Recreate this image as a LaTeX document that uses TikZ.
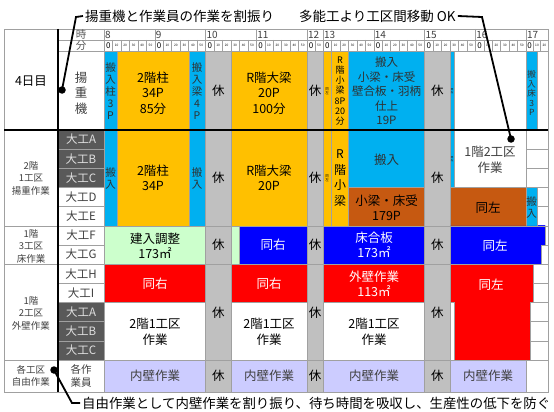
\documentclass[tikz,border=0pt]{standalone}
\usepackage{fontspec}
\setmainfont{Noto Sans CJK JP}
\definecolor{cy}{HTML}{00B0F0}
\definecolor{og}{HTML}{FFC000}
\definecolor{gy}{HTML}{C0C0C0}
\definecolor{br}{HTML}{C65911}
\definecolor{bl}{HTML}{0000FF}
\definecolor{rd}{HTML}{FF0000}
\definecolor{gr}{HTML}{CCFFCC}
\definecolor{lv}{HTML}{CCCCFF}
\definecolor{dk}{HTML}{595959}
\definecolor{gl}{HTML}{A0A0A0}
\definecolor{tx4}{HTML}{404040}
\definecolor{cytx}{HTML}{303030}
\newcommand\bx[5]{\path[blk,fill=#1] (#2,#3) rectangle (#4,#5);}
\begin{document}
\begin{tikzpicture}[x=1pt,y=-1pt,
  every node/.style={inner sep=0pt, align=center},
  blk/.style={draw=gl, line width=0.5pt},
  tb/.style={font=\fontsize{12.5}{15.5}\selectfont},
  vs/.style={font=\fontsize{10.5}{12}\selectfont, text=cytx},
  lab/.style={font=\fontsize{9.5}{12.5}\selectfont, text=tx4},
  dg/.style={font=\fontsize{11.5}{13}\selectfont},
  tinyt/.style={font=\fontsize{3.5}{4}\selectfont},
  leader/.style={line width=1.8pt, black},
  blackdot/.style={circle, fill=black, minimum size=7.5pt},
  captxt/.style={anchor=west, inner sep=2pt, font=\fontsize{13.5}{13.5}\selectfont}]
\useasboundingbox (0,0) rectangle (554,412);
\fill[white] (0,0) rectangle (554,412);
% table frame
\path[fill=white, draw=gl, line width=0.5pt] (4,29) rectangle (548,392);
\draw[gl] (58,40) -- (548,40);
\draw[gl, line width=0.8pt] (58,51) -- (548,51);
\foreach \y in {149.17,168.33,187.5,206.67,245,283.33,302.5,321.67,340.83}
  \draw[gl] (58,\y) -- (548,\y);
\foreach \y in {225.83,264.17,360}
  \draw[gl] (4,\y) -- (548,\y);
\draw[gl] (104,29) -- (104,392);
% header
\node[font=\fontsize{10.5}{10.5}\selectfont, text=dk] (hji) at (81,34.5) {時};
\node[font=\fontsize{10.5}{10.5}\selectfont, text=dk] (hfun) at (81,45.8) {分};
\foreach \h/\x in {8/104,9/154.75,10/205.5,11/256.25,13/323,14/373.75,15/424.5,16/475.25}{
  \draw[gl] (\x,29) -- (\x,51);
  \node[anchor=west, font=\fontsize{10}{10}\selectfont, text=tx4] (hr\h) at (\x+0.8,34.8) {\h};
  \node[font=\fontsize{8}{8}\selectfont] (mz\h) at (\x+4.23,45.8) {0};
  \foreach \i/\m in {1/10,2/20,3/30,4/40,5/50}{
    \draw[gl] (\x+\i*8.458,40) -- (\x+\i*8.458,51);
    \node[font=\fontsize{3.2}{3.2}\selectfont] (m\h-\m) at (\x+\i*8.458+4.23,45.8) {\m};
  }
}
\draw[gl] (307,29) -- (307,51);
\draw[gl] (315,40) -- (315,51);
\node[anchor=west, font=\fontsize{10}{10}\selectfont, text=tx4] (hr12) at (307.8,34.8) {12};
\node[font=\fontsize{8}{8}\selectfont] (mz12) at (311,45.8) {0};
\node[font=\fontsize{3.2}{3.2}\selectfont] (m12-50) at (319,45.8) {50};
\draw[gl] (526,29) -- (526,51);
\draw[gl] (533.33,40) -- (533.33,51);
\draw[gl] (540.67,40) -- (540.67,51);
\node[anchor=west, font=\fontsize{10}{10}\selectfont, text=tx4] (hr17) at (526.8,34.8) {17};
\node[font=\fontsize{8}{8}\selectfont] (mz17) at (529.7,45.8) {0};
\node[font=\fontsize{3.2}{3.2}\selectfont] (m17-10) at (537,45.8) {10};
\node[font=\fontsize{3.2}{3.2}\selectfont] (m17-20) at (544.3,45.8) {20};
% gray break columns
\foreach \a/\b in {205.5/231,307/323,424.5/450}
  \foreach \u/\v in {51/130,130/225.83,225.83/264.17,264.17/360,360/392}
    \bx{gy}{\a}{\u}{\b}{\v}
% row 1
\bx{cy}{104}{51}{117}{130}
\bx{og}{117}{51}{189}{130}
\bx{cy}{189}{51}{205.5}{130}
\bx{og}{231}{51}{307}{130}
\bx{og}{323}{51}{331.5}{130}
\bx{og}{331.5}{51}{348.4}{130}
\bx{cy}{348.4}{51}{424.5}{130}
\bx{cy}{450}{51}{454.2}{130}
\bx{cy}{526}{51}{537.5}{130}
% A-E
\bx{cy}{104}{130}{117}{225.83}
\bx{og}{117}{130}{189}{225.83}
\bx{cy}{189}{130}{205.5}{225.83}
\bx{og}{231}{130}{307}{225.83}
\bx{og}{323}{130}{331.5}{225.83}
\bx{og}{331.5}{130}{348.4}{225.83}
\bx{cy}{348.4}{130}{424.5}{187.5}
\bx{br}{348.4}{187.5}{424.5}{225.83}
\bx{cy}{450}{130}{454.2}{187.5}
\bx{white}{454.2}{130}{526}{187.5}
\bx{br}{450}{187.5}{526}{225.83}
\bx{cy}{526}{187.5}{537.5}{225.83}
% F-G
\bx{gr}{104}{225.83}{205.5}{264.17}
\bx{gr}{231}{225.83}{239.5}{264.17}
\bx{bl}{239.5}{225.83}{307}{264.17}
\bx{bl}{323}{225.83}{424.5}{264.17}
\path[blk,fill=bl] (450,225.83) -- (545,225.83) -- (545,245) -- (541,245) -- (541,264.17) -- (450,264.17) -- cycle;
% H-I
\bx{rd}{104}{264.17}{205.5}{302.5}
\bx{rd}{231}{264.17}{307}{302.5}
\bx{rd}{323}{264.17}{424.5}{302.5}
\path[blk,fill=rd] (450,264.17) -- (533,264.17) -- (533,302.5) -- (530,302.5) -- (530,360) -- (454.2,360) -- (454.2,302.5) -- (450,302.5) -- cycle;
% A-C
\bx{white}{104}{302.5}{205.5}{360}
\bx{white}{231}{302.5}{307}{360}
\bx{white}{323}{302.5}{424.5}{360}
\bx{white}{450}{302.5}{454.2}{360}
% last row
\bx{lv}{104}{360}{205.5}{392}
\bx{lv}{231}{360}{307}{392}
\bx{lv}{323}{360}{424.5}{392}
\bx{lv}{450}{360}{526}{392}
% dark label cells
\foreach \u/\v in {130/149.17,149.17/168.33,168.33/187.5,302.5/321.67,321.67/340.83,340.83/360}
  \path[draw=gl, fill=dk] (58,\u) rectangle (104,\v);
% strong lines
\draw[black, line width=1.2pt] (4,130) -- (548,130);
\draw[black, line width=1.2pt] (58,29) -- (58,392);
% left labels
\node[tb] (d4) at (31,81) {4日目};
\node[tb, text=tx4] (yj) at (81,93) {揚\\重\\機};
\node[lab] (l1) at (31,178) {2階\\1工区\\揚重作業};
\node[lab] (l2) at (31,246) {1階\\3工区\\床作業};
\node[lab] (l3) at (31,313) {1階\\2工区\\外壁作業};
\node[lab] (l4) at (31,376) {各工区\\自由作業};
\foreach \n/\y in {A/139.6,B/158.75,C/177.9}
  \node[dg, text=white!88!black] (da\n) at (81,\y) {大工\n};
\foreach \n/\y in {D/197.1,E/216.25,F/235.4,G/254.6,H/273.75,I/292.9}
  \node[dg, text=tx4] (db\n) at (81,\y) {大工\n};
\foreach \n/\y in {A/312.1,B/331.25,C/350.4}
  \node[dg, text=white!88!black] (dc\n) at (81,\y) {大工\n};
\node[lab, font=\fontsize{10.5}{12.5}\selectfont] (kk) at (81,376) {各作\\業員};
% row 1 texts
\node[vs] (c1) at (110.5,91) {搬\\入\\柱\\3\\P};
\node[tb] (o1) at (153,93) {2階柱\\34P\\85分};
\node[vs] (c2) at (197,91) {搬\\入\\梁\\4\\P};
\node[tb] (o2) at (269,93) {R階大梁\\20P\\100分};
\node[tinyt] (s1) at (327.2,91) {同\\左};
\node[font=\fontsize{9}{10.3}\selectfont] (o3) at (340,91) {R\\階\\小\\梁\\8P\\20\\分};
\node[font=\fontsize{11.5}{14.5}\selectfont, text=cytx] (c3) at (386.5,91) {搬入\\小梁・床受\\壁合板・羽柄\\仕上\\19P};
\node[font=\fontsize{2.5}{3}\selectfont] (s2) at (452.1,91) {同\\左};
\node[font=\fontsize{8.5}{9.5}\selectfont, text=cytx] (c4) at (531.7,93) {搬\\入\\床\\3\\P};
% A-E texts
\node[vs] (c5) at (110.5,178) {搬\\入};
\node[tb] (o4) at (153,178) {2階柱\\34P};
\node[vs] (c6) at (197,178) {搬\\入};
\node[tb] (o5) at (269,178) {R階大梁\\20P};
\node[tinyt] (s3) at (327.2,178) {同\\左};
\node[font=\fontsize{12}{15.5}\selectfont] (o6) at (340,178) {R\\階\\小\\梁};
\node[tb, text=cytx] (c7) at (386.5,160) {搬入};
\node[tb] (b1) at (386.5,208) {小梁・床受\\179P};
\node[font=\fontsize{2.5}{3}\selectfont] (s4) at (452.1,159) {同\\左};
\node[tb, text=tx4] (w1) at (490,160) {1階2工区\\作業};
\node[tb] (b2) at (488,208) {同左};
\node[vs] (c8) at (531.7,207) {搬\\入};
% F-G texts
\node[tb] (g1) at (155,246) {建入調整\\173㎡};
\node[tb, text=white] (u1) at (273,245) {同右};
\node[tb, text=white] (u2) at (374,245) {床合板\\173㎡};
\node[tb, text=white] (u3) at (495,246) {同左};
% H-I texts
\node[tb, text=white] (r1) at (155,284) {同右};
\node[tb, text=white] (r2) at (269,284) {同右};
\node[tb, text=white] (r3) at (374,284) {外壁作業\\113㎡};
\node[tb, text=white] (r4) at (491,285) {同左};
% A-C texts
\node[tb] (w2) at (155,332) {2階1工区\\作業};
\node[tb] (w3) at (269,332) {2階1工区\\作業};
\node[tb] (w4) at (374,332) {2階1工区\\作業};
% last row texts
\node[tb, text=tx4] (n1) at (155,376) {内壁作業};
\node[tb, text=tx4] (n2) at (269,376) {内壁作業};
\node[tb, text=tx4] (n3) at (374,376) {内壁作業};
\node[tb, text=tx4] (n4) at (488,376) {内壁作業};
% rest labels
\foreach \x/\i in {218.25/a,315/b,437.25/c}
  \foreach \y/\j in {91/1,178/2,245/3,313/4,376/5}
    \node[tb] (k\i\j) at (\x,\y) {休};
% callouts
\node[captxt] (cA) at (83,16) {揚重機と作業員の作業を割振り};
\coordinate (cAb) at (76,17);
\node[blackdot] (dA) at (62,90) {};
\draw[leader] (cA.west) -- (cAb) -- (dA.center);
\node[captxt] (cB) at (297,16) {多能工より工区間移動 OK};
\coordinate (cBb) at (482,17);
\node[blackdot] (dB) at (511,139) {};
\draw[leader] (cB.east) -- (cBb) -- (dB.center);
\node[captxt, font=\fontsize{13.4}{13.4}\selectfont] (cC) at (80,403) {自由作業として内壁作業を割り振り、待ち時間を吸収し、生産性の低下を防ぐ};
\coordinate (cCb) at (72,403);
\node[blackdot] (dC) at (54,370) {};
\draw[leader] (dC.center) -- (cCb) -- (cC.west);
\end{tikzpicture}
\end{document}
